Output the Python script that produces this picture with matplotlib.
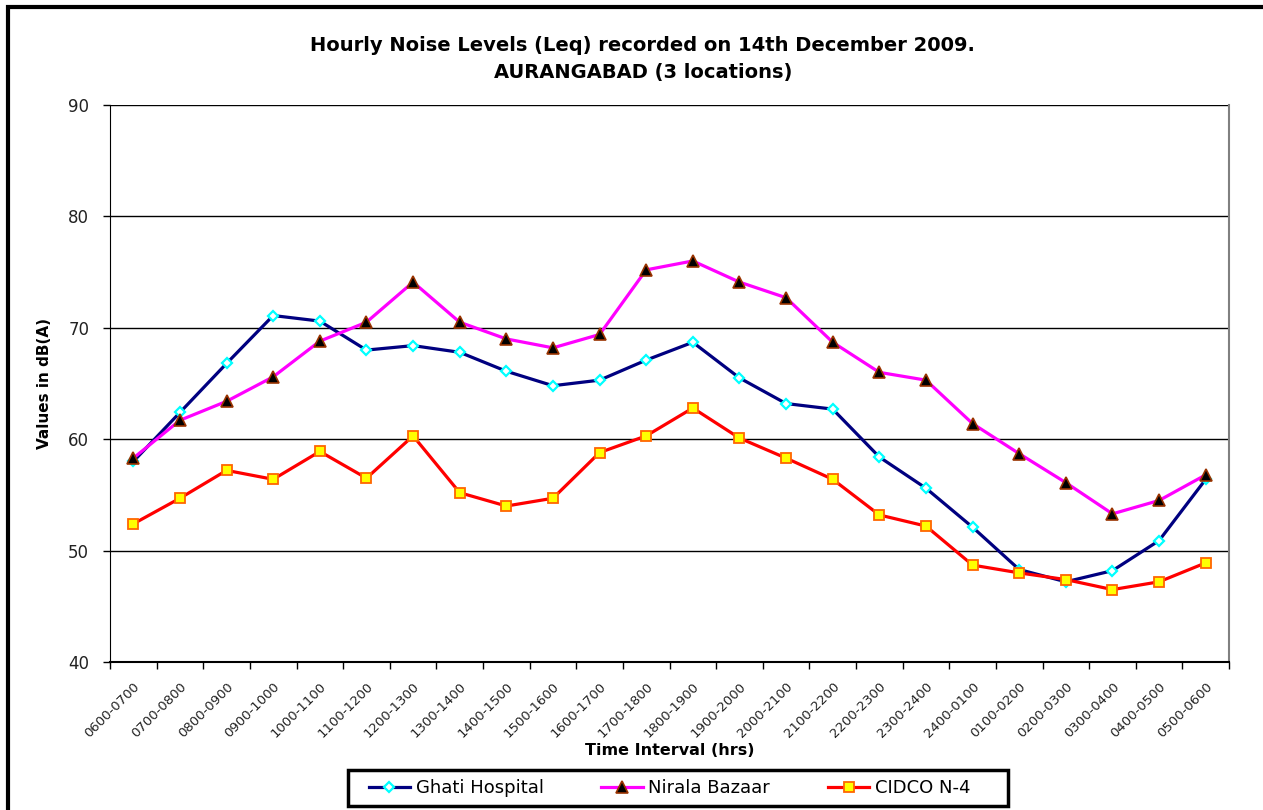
import matplotlib
matplotlib.use("Agg")
import matplotlib.pyplot as plt
from matplotlib.patches import Rectangle
import numpy as np

plt.rcParams['font.family'] = ['DejaVu Sans']

intervals = ["0600-0700", "0700-0800", "0800-0900", "0900-1000", "1000-1100", "1100-1200",
             "1200-1300", "1300-1400", "1400-1500", "1500-1600", "1600-1700", "1700-1800",
             "1800-1900", "1900-2000", "2000-2100", "2100-2200", "2200-2300", "2300-2400",
             "2400-0100", "0100-0200", "0200-0300", "0300-0400", "0400-0500", "0500-0600"]

ghati = [58.0, 62.4, 66.8, 71.1, 70.6, 68.0, 68.4, 67.8, 66.1, 64.8, 65.3, 67.1,
         68.7, 65.5, 63.2, 62.7, 58.4, 55.6, 52.1, 48.3, 47.2, 48.2, 50.9, 56.4]
nirala = [58.3, 61.7, 63.4, 65.6, 68.8, 70.5, 74.1, 70.5, 69.0, 68.2, 69.4, 75.2,
          76.0, 74.1, 72.7, 68.7, 66.0, 65.3, 61.4, 58.7, 56.1, 53.3, 54.5, 56.8]
cidco = [52.4, 54.7, 57.2, 56.4, 58.9, 56.5, 60.3, 55.2, 54.0, 54.7, 58.8, 60.3,
         62.8, 60.1, 58.3, 56.4, 53.2, 52.2, 48.7, 48.0, 47.4, 46.5, 47.2, 48.9]

y_ticks = [40, 50, 60, 70, 80, 90]

fig = plt.figure(figsize=(12.63, 8.10), dpi=100)
ax = fig.add_axes([0.0871, 0.1827, 0.886, 0.6877])

x = np.arange(len(intervals))
ax.plot(x, ghati, color="#000080", lw=2.3, marker="D", ms=5.5, mfc="white",
        mec="#00FFFF", mew=1.6, label="Ghati Hospital", zorder=5)
ax.plot(x, nirala, color="#FF00FF", lw=2.3, marker="^", ms=8, mfc="black",
        mec="#993300", mew=1.2, label="Nirala Bazaar", zorder=5)
ax.plot(x, cidco, color="#FF0000", lw=2.3, marker="s", ms=7.5, mfc="#FFFF00",
        mec="#FF6600", mew=1.3, label="CIDCO N-4", zorder=6)

ax.set_xlim(-0.5, len(intervals) - 0.5)
ax.set_ylim(40, 90)
ax.set_yticks(y_ticks)
ax.tick_params(axis="y", labelsize=12, direction="out", length=5, width=1, pad=10,
               labelcolor="#222222")
ax.grid(axis="y", color="black", lw=1)
ax.set_axisbelow(True)

ax.set_xticks(x)
ax.set_xticklabels(intervals, rotation=45, ha="right", rotation_mode="anchor", fontsize=9.5,
                   color="#222222")
ax.tick_params(axis="x", length=0, pad=13)
ax.set_xticks(np.arange(-0.5, len(intervals)), minor=True)
ax.tick_params(axis="x", which="minor", length=5, width=1, direction="out")

ax.spines["left"].set_color("black")
ax.spines["bottom"].set_color("black")
ax.spines["bottom"].set_linewidth(1.5)
ax.spines["right"].set_color("#808080")
ax.spines["right"].set_linewidth(1.5)
ax.spines["top"].set_visible(False)

ax.set_ylabel("Values in dB(A)", fontsize=11, fontweight="bold", labelpad=12)
ax.set_xlabel("Time Interval (hrs)", fontsize=11.5, fontweight="bold", labelpad=2)

fig.text(0.509, 0.944, "Hourly Noise Levels (Leq) recorded on 14th December 2009.",
         ha="center", va="center", fontsize=14, fontweight="bold")
fig.text(0.509, 0.911, "AURANGABAD (3 locations)",
         ha="center", va="center", fontsize=14, fontweight="bold")

leg = fig.legend(loc="center", bbox_to_anchor=(0.53, 0.0272), ncol=3, fontsize=13,
                 frameon=False, handlelength=2.3, handletextpad=0.3, columnspacing=3.2)
fig.patches.append(Rectangle((348 / 1263, 1 - 806 / 810), 660 / 1263, 36 / 810,
                             transform=fig.transFigure, fill=False, edgecolor="black", lw=2.5))

fig.patches.append(Rectangle((0.0063, -0.01), 1.2, 1.0015, transform=fig.transFigure,
                             fill=False, edgecolor="black", lw=3))

fig.savefig("out.png", dpi=100)
